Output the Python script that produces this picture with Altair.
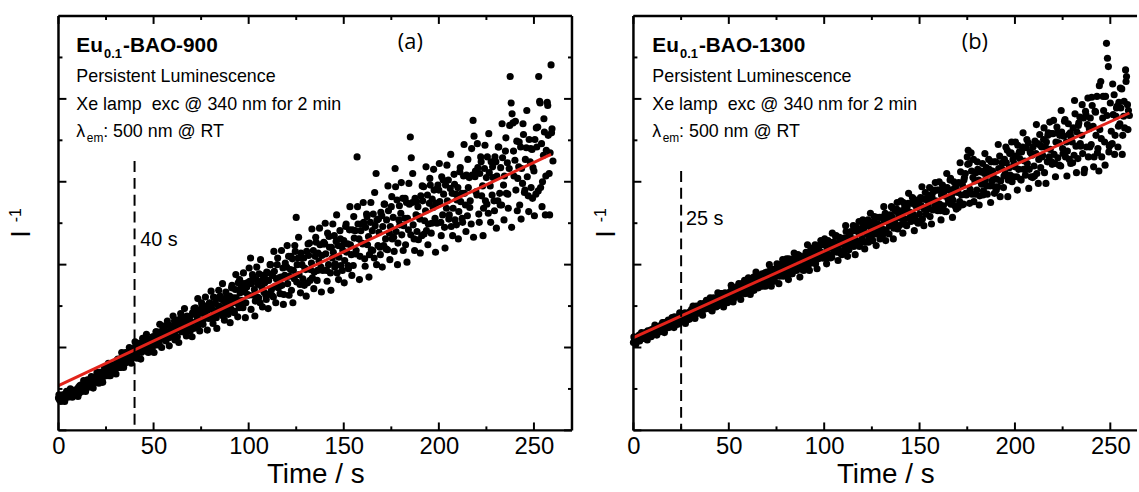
import altair as alt
import numpy as np
import pandas as pd

FONT = "Liberation Sans"
RED = "#e2231a"

# sampling grids of the measurement
time_s = np.arange(0, 260.5, 0.5)      # main readings, every 0.5 s
time_s2 = np.arange(0.25, 260, 1.0)    # interleaved readings, every 1 s

# I^-1 (arb. units) (a) Eu0.1-BAO-900, 20 readings per 10 s row
inv_900 = [
    0.39, 0.37, 0.42, 0.39, 0.40, 0.37, 0.43, 0.42, 0.40, 0.46, 0.40, 0.44, 0.46, 0.43, 0.42, 0.48, 0.46, 0.44, 0.49, 0.47,
    0.47, 0.52, 0.45, 0.52, 0.55, 0.50, 0.52, 0.50, 0.56, 0.52, 0.56, 0.60, 0.52, 0.59, 0.57, 0.62, 0.57, 0.61, 0.58, 0.65,
    0.65, 0.63, 0.60, 0.70, 0.63, 0.68, 0.62, 0.71, 0.67, 0.69, 0.74, 0.67, 0.73, 0.66, 0.74, 0.72, 0.79, 0.71, 0.76, 0.76,
    0.80, 0.75, 0.85, 0.79, 0.82, 0.76, 0.87, 0.84, 0.82, 0.92, 0.81, 0.88, 0.91, 0.86, 0.84, 0.95, 0.92, 0.87, 0.95, 0.93,
    0.93, 1.01, 0.90, 1.00, 1.05, 0.96, 0.99, 0.94, 1.04, 0.97, 1.03, 1.08, 0.96, 1.06, 1.03, 1.10, 1.02, 1.07, 1.02, 1.13,
    1.13, 1.10, 1.03, 1.19, 1.07, 1.14, 1.04, 1.19, 1.11, 1.14, 1.22, 1.10, 1.20, 1.08, 1.19, 1.15, 1.27, 1.12, 1.21, 1.20,
    1.25, 1.16, 1.32, 1.20, 1.25, 1.13, 1.32, 1.25, 1.21, 1.37, 1.19, 1.30, 1.34, 1.25, 1.20, 1.38, 1.32, 1.24, 1.37, 1.31,
    1.30, 1.42, 1.23, 1.40, 1.48, 1.32, 1.37, 1.27, 1.45, 1.31, 1.42, 1.51, 1.28, 1.45, 1.40, 1.50, 1.37, 1.45, 1.35, 1.54,
    1.53, 1.47, 1.36, 1.61, 1.41, 1.53, 1.36, 1.59, 1.46, 1.50, 1.62, 1.43, 1.58, 1.38, 1.56, 1.49, 1.67, 1.43, 1.57, 1.54,
    1.62, 1.47, 1.72, 1.54, 1.60, 1.42, 1.70, 1.60, 1.53, 1.78, 1.48, 1.66, 1.72, 1.57, 1.48, 1.77, 1.67, 1.54, 1.73, 1.64,
    1.63, 1.80, 2.08, 1.77, 1.88, 1.63, 1.70, 1.56, 1.82, 1.61, 1.76, 1.89, 1.54, 1.80, 1.72, 1.87, 1.67, 1.78, 1.63, 1.91,
    1.90, 1.81, 1.65, 2.00, 1.70, 1.87, 1.61, 1.92, 1.74, 1.83, 2.00, 1.72, 1.84, 1.65, 1.85, 1.75, 1.96, 1.64, 1.87, 1.85,
    1.97, 1.77, 2.10, 1.86, 1.94, 1.69, 2.07, 1.93, 1.83, 2.16, 2.57, 2.00, 2.08, 1.88, 1.76, 2.14, 2.00, 1.83, 2.08, 1.96,
    1.94, 2.16, 1.78, 2.11, 2.26, 1.94, 2.02, 1.84, 2.17, 1.91, 2.10, 2.27, 1.81, 2.14, 2.04, 2.24, 1.97, 2.11, 1.93, 2.27,
    2.25, 2.13, 1.93, 2.38, 2.00, 2.21, 1.90, 2.21, 2.08, 2.15, 2.35, 2.01, 2.28, 1.90, 2.23, 2.09, 2.41, 1.99, 2.22, 2.17,
    2.29, 2.05, 2.46, 2.15, 2.25, 1.95, 2.42, 2.24, 2.12, 2.42, 1.99, 2.32, 2.41, 2.17, 3.30, 2.49, 2.31, 2.10, 2.41, 2.26,
    2.25, 2.51, 2.07, 2.45, 2.61, 2.24, 2.34, 2.12, 2.51, 2.18, 2.41, 2.61, 2.08, 2.47, 3.10, 2.54, 2.23, 2.39, 2.21, 2.63,
    2.59, 2.46, 2.23, 2.73, 2.31, 2.54, 2.18, 2.65, 2.38, 2.46, 2.70, 2.31, 2.57, 2.16, 3.16, 2.40, 2.78, 2.26, 2.54, 2.48,
    2.62, 2.36, 2.80, 2.47, 2.56, 2.24, 2.75, 2.56, 2.42, 2.73, 3.54, 3.29, 2.75, 2.48, 2.31, 2.80, 2.60, 2.40, 2.70, 2.58,
    2.55, 2.83, 2.35, 2.77, 2.94, 2.53, 2.65, 2.41, 2.84, 2.49, 2.74, 2.96, 2.38, 2.79, 2.69, 2.90, 2.56, 2.74, 2.50, 2.96,
    2.90, 2.76, 2.51, 3.06, 2.60, 2.85, 2.45, 2.96, 2.68, 2.77, 3.02, 2.60, 2.92, 2.46, 2.86, 2.68, 3.09, 2.54, 2.85, 2.78,
    2.93, 2.64, 3.12, 2.76, 2.86, 2.51, 3.07, 2.86, 2.72, 3.08, 2.59, 2.93, 3.05, 2.77, 2.49, 3.08, 3.74, 3.55, 3.06, 2.88,
    2.84, 3.17, 2.61, 3.10, 3.30, 2.83, 2.95, 2.68, 3.16, 2.77, 3.05, 3.30, 2.62, 3.11, 2.95, 3.24, 2.84, 3.05, 2.77, 3.30,
    3.24, 3.07, 2.77, 3.42, 2.86, 3.17, 2.72, 3.29, 2.96, 3.07, 3.37, 2.86, 3.23, 2.68, 3.16, 4.27, 3.95, 3.82, 3.71, 3.07,
    3.26, 2.90, 3.49, 3.04, 3.18, 2.72, 3.42, 3.16, 2.98, 3.57, 2.87, 3.27, 3.41, 3.06, 2.83, 3.51, 3.24, 2.93, 3.39, 3.17,
    3.13, 3.51, 2.85, 3.42, 3.66, 4.27, 3.97, 2.93, 3.46, 3.00, 3.32, 3.60, 2.60, 3.38, 3.96, 3.56, 3.10, 3.35, 4.41, 3.64,
    3.25,
]

# interleaved readings of panel (a), 10 per 10 s row
inv_900_b = [
    0.43, 0.35, 0.43, 0.35, 0.47, 0.41, 0.50, 0.40, 0.48, 0.43,
    0.41, 0.54, 0.47, 0.60, 0.47, 0.61, 0.54, 0.65, 0.51, 0.64,
    0.70, 0.57, 0.70, 0.58, 0.76, 0.66, 0.81, 0.66, 0.78, 0.71,
    0.68, 0.86, 0.76, 0.94, 0.76, 0.94, 0.85, 1.00, 0.81, 0.98,
    1.07, 0.87, 1.04, 0.86, 1.11, 0.96, 1.16, 0.94, 1.09, 0.99,
    0.94, 1.19, 1.03, 1.28, 1.00, 1.26, 1.11, 1.32, 1.02, 1.26,
    1.38, 1.09, 1.33, 1.06, 1.41, 1.19, 1.47, 1.14, 1.36, 1.20,
    1.13, 1.47, 1.24, 1.59, 1.20, 1.54, 1.34, 1.61, 1.21, 1.53,
    1.68, 1.29, 1.60, 1.23, 1.69, 1.41, 1.77, 1.33, 1.61, 1.40,
    1.30, 1.75, 1.44, 1.88, 1.37, 1.82, 1.54, 1.90, 1.36, 1.78,
    1.96, 1.46, 1.85, 1.38, 1.97, 1.60, 2.06, 1.49, 1.85, 1.58,
    1.47, 2.00, 1.63, 2.16, 1.54, 2.08, 1.74, 2.17, 1.52, 2.02,
    2.23, 1.63, 2.10, 1.54, 2.23, 1.79, 2.33, 1.66, 2.08, 1.75,
    1.62, 2.25, 1.81, 2.43, 1.71, 2.33, 1.93, 2.44, 1.67, 2.25,
    2.50, 1.80, 2.34, 1.69, 2.49, 1.97, 2.60, 1.82, 2.31, 1.93,
    1.78, 2.49, 1.99, 2.70, 1.87, 2.58, 2.13, 2.70, 1.82, 2.49,
    2.75, 1.98, 2.58, 1.85, 2.75, 2.17, 2.87, 2.00, 2.55, 2.12,
    1.97, 2.73, 2.19, 2.95, 2.06, 2.82, 2.33, 2.94, 2.00, 2.71,
    2.99, 2.17, 2.80, 2.03, 2.98, 2.36, 3.10, 2.17, 2.76, 2.30,
    2.14, 2.95, 2.37, 3.18, 2.24, 3.04, 2.50, 3.15, 2.15, 2.92,
    3.22, 2.35, 3.02, 2.20, 3.20, 2.55, 3.33, 2.35, 2.97, 2.48,
    2.31, 3.17, 2.56, 3.45, 2.40, 3.27, 2.69, 3.40, 2.33, 3.13,
    3.46, 2.51, 3.24, 2.35, 3.44, 2.73, 3.58, 2.51, 3.18, 2.65,
    2.44, 3.42, 2.72, 3.70, 2.54, 3.53, 2.85, 3.68, 2.45, 3.37,
    3.73, 2.65, 3.48, 2.55, 3.70, 2.90, 3.86, 2.64, 3.40, 2.80,
    2.59, 3.65, 2.89, 3.95, 2.70, 3.76, 3.07, 3.92, 2.60, 3.59,
]

# I^-1 (arb. units) (b) Eu0.1-BAO-1300
inv_1300 = [
    1.06, 1.11, 1.10, 1.07, 1.12, 1.10, 1.15, 1.10, 1.14, 1.13, 1.16, 1.11, 1.15, 1.17, 1.14, 1.20, 1.16, 1.17, 1.21, 1.16,
    1.22, 1.18, 1.17, 1.22, 1.25, 1.19, 1.23, 1.25, 1.19, 1.27, 1.24, 1.27, 1.30, 1.23, 1.27, 1.25, 1.31, 1.24, 1.30, 1.30,
    1.29, 1.33, 1.28, 1.37, 1.31, 1.34, 1.29, 1.37, 1.38, 1.33, 1.36, 1.32, 1.40, 1.36, 1.42, 1.36, 1.41, 1.34, 1.41, 1.43,
    1.39, 1.46, 1.43, 1.38, 1.46, 1.43, 1.50, 1.41, 1.47, 1.45, 1.50, 1.42, 1.49, 1.51, 1.46, 1.54, 1.48, 1.50, 1.55, 1.47,
    1.56, 1.51, 1.48, 1.55, 1.60, 1.51, 1.56, 1.59, 1.50, 1.61, 1.56, 1.60, 1.65, 1.55, 1.60, 1.58, 1.66, 1.56, 1.64, 1.63,
    1.62, 1.67, 1.59, 1.72, 1.63, 1.67, 1.60, 1.71, 1.73, 1.65, 1.68, 1.63, 1.74, 1.68, 1.77, 1.67, 1.74, 1.65, 1.73, 1.77,
    1.70, 1.81, 1.76, 1.68, 1.81, 1.75, 1.85, 1.72, 1.81, 1.78, 1.85, 1.72, 1.82, 1.84, 1.77, 1.89, 1.80, 1.83, 1.90, 1.78,
    1.91, 1.83, 1.79, 1.89, 1.95, 1.83, 1.89, 1.93, 1.80, 1.95, 1.88, 1.94, 2.00, 1.86, 1.92, 1.89, 2.00, 1.86, 1.97, 1.96,
    1.94, 2.00, 1.89, 2.07, 1.94, 2.00, 1.89, 2.04, 2.07, 1.95, 2.00, 1.93, 2.08, 2.00, 2.11, 1.97, 2.07, 1.94, 2.06, 2.10,
    2.01, 2.15, 2.08, 1.98, 2.14, 2.06, 2.20, 2.02, 2.14, 2.10, 2.18, 2.01, 2.15, 2.18, 2.07, 2.23, 2.11, 2.15, 2.24, 2.08,
    2.24, 2.13, 2.08, 2.20, 2.29, 2.12, 2.20, 2.25, 2.09, 2.27, 2.19, 2.26, 2.34, 2.15, 2.23, 2.19, 2.33, 2.14, 2.29, 2.27,
    2.25, 2.32, 2.19, 2.40, 2.24, 2.31, 2.18, 2.37, 2.40, 2.25, 2.31, 2.22, 2.41, 2.30, 2.45, 2.27, 2.39, 2.22, 2.37, 2.43,
    2.31, 2.48, 2.40, 2.27, 2.47, 2.37, 2.54, 2.32, 2.46, 2.40, 2.51, 2.29, 2.46, 2.50, 2.37, 2.57, 2.41, 2.46, 2.57, 2.36,
    2.57, 2.43, 2.37, 2.52, 2.62, 2.42, 2.52, 2.57, 2.37, 2.60, 2.49, 2.58, 2.68, 2.44, 2.54, 2.48, 2.67, 2.43, 2.61, 2.59,
    2.56, 2.65, 2.49, 2.75, 2.55, 2.64, 2.48, 2.70, 2.74, 2.56, 2.63, 2.52, 2.74, 2.61, 2.79, 2.57, 2.71, 2.52, 2.69, 2.76,
    2.61, 2.81, 2.71, 2.55, 2.79, 2.67, 2.87, 2.61, 2.78, 2.71, 2.84, 2.58, 2.78, 2.82, 2.66, 2.90, 2.71, 2.77, 2.90, 2.65,
    2.90, 2.73, 2.65, 2.84, 2.96, 2.71, 2.83, 2.90, 2.64, 2.93, 2.79, 2.90, 3.02, 2.73, 2.85, 2.78, 3.00, 2.71, 2.93, 2.90,
    2.87, 2.99, 2.76, 3.12, 2.84, 2.96, 2.73, 3.05, 3.10, 2.84, 3.30, 3.38, 3.22, 2.91, 3.35, 2.85, 3.05, 2.76, 3.01, 3.11,
    2.90, 3.15, 3.02, 2.83, 3.12, 2.97, 3.22, 2.89, 3.10, 3.02, 3.17, 2.85, 3.10, 3.15, 2.95, 3.24, 3.01, 3.08, 3.24, 2.94,
    3.24, 3.03, 2.94, 3.16, 3.31, 3.01, 3.16, 3.23, 2.93, 3.27, 3.10, 3.23, 3.38, 3.02, 3.17, 3.08, 3.35, 3.00, 3.27, 3.22,
    3.18, 3.31, 3.06, 3.44, 3.15, 3.28, 3.03, 3.36, 3.42, 3.15, 3.25, 3.08, 3.41, 3.22, 3.47, 3.15, 3.36, 3.06, 3.32, 3.42,
    3.19, 3.49, 3.34, 3.10, 3.46, 3.27, 3.57, 3.17, 3.42, 3.32, 3.51, 3.11, 3.42, 3.48, 3.24, 3.59, 3.30, 3.39, 3.58, 3.21,
    3.58, 3.33, 3.22, 3.48, 3.66, 3.29, 3.47, 3.56, 3.19, 3.60, 3.40, 3.55, 3.73, 3.30, 3.48, 3.37, 3.70, 3.27, 3.59, 3.54,
    3.48, 3.65, 3.32, 3.82, 3.43, 3.60, 3.28, 3.71, 3.78, 3.43, 3.56, 3.34, 3.77, 3.15, 3.85, 3.42, 3.69, 3.30, 3.64, 3.77,
    3.45, 3.92, 3.67, 3.30, 3.85, 3.56, 4.03, 3.40, 3.13, 3.63, 4.21, 3.30, 3.77, 3.86, 3.48, 4.03, 4.67, 4.49, 4.39, 3.43,
    3.95, 3.61, 3.46, 3.81, 4.05, 3.56, 3.79, 3.91, 3.42, 3.96, 3.70, 3.89, 4.12, 3.56, 3.79, 3.65, 4.35, 4.27, 3.93, 3.86,
    3.80,
]

# interleaved readings of panel (b), 10 per 10 s row
inv_1300_b = [
    1.13, 1.04, 1.12, 1.08, 1.18, 1.11, 1.18, 1.09, 1.17, 1.13,
    1.15, 1.27, 1.15, 1.24, 1.22, 1.30, 1.18, 1.30, 1.33, 1.25,
    1.36, 1.24, 1.35, 1.28, 1.42, 1.33, 1.41, 1.29, 1.40, 1.34,
    1.36, 1.50, 1.35, 1.47, 1.43, 1.53, 1.39, 1.52, 1.57, 1.47,
    1.60, 1.44, 1.58, 1.49, 1.66, 1.54, 1.65, 1.49, 1.62, 1.54,
    1.56, 1.75, 1.55, 1.69, 1.65, 1.77, 1.58, 1.76, 1.81, 1.68,
    1.84, 1.64, 1.81, 1.69, 1.91, 1.75, 1.87, 1.74, 1.85, 1.74,
    1.77, 2.00, 1.74, 1.93, 1.86, 2.01, 1.77, 1.99, 2.06, 1.88,
    2.07, 1.82, 2.03, 1.89, 2.14, 1.95, 2.12, 1.85, 2.06, 1.93,
    1.96, 2.24, 1.93, 2.14, 2.07, 2.24, 1.95, 2.22, 2.29, 2.08,
    2.31, 2.01, 2.25, 2.08, 2.38, 2.16, 2.35, 2.05, 2.28, 2.12,
    2.14, 2.47, 2.10, 2.35, 2.26, 2.47, 2.12, 2.43, 2.52, 2.27,
    2.54, 2.19, 2.47, 2.27, 2.62, 2.36, 2.58, 2.23, 2.49, 2.31,
    2.34, 2.70, 2.29, 2.57, 2.47, 2.70, 2.31, 2.65, 2.75, 2.47,
    2.77, 2.38, 2.70, 2.47, 2.86, 2.56, 2.81, 2.41, 2.71, 2.50,
    2.53, 2.94, 2.47, 2.79, 2.67, 2.93, 2.49, 2.88, 2.99, 2.67,
    3.00, 2.54, 2.90, 2.64, 3.10, 2.75, 3.04, 2.57, 2.92, 2.67,
    2.69, 3.23, 2.72, 3.02, 2.86, 3.21, 2.74, 3.13, 3.27, 2.85,
    3.24, 2.72, 3.13, 2.84, 3.34, 2.95, 3.27, 2.75, 3.13, 2.86,
    2.90, 3.45, 2.82, 3.23, 3.07, 3.42, 2.82, 3.34, 3.48, 3.06,
    3.48, 2.90, 3.36, 3.02, 3.59, 3.15, 3.51, 2.92, 3.35, 3.05,
    3.07, 3.69, 2.98, 3.44, 3.30, 3.65, 2.98, 3.56, 3.72, 3.24,
    3.74, 3.06, 3.59, 3.20, 3.86, 3.34, 3.75, 3.07, 3.57, 3.22,
    3.23, 3.98, 3.11, 3.68, 3.46, 3.93, 3.11, 3.81, 4.01, 3.42,
    4.02, 3.18, 3.84, 3.35, 4.16, 3.52, 4.03, 3.20, 3.80, 3.36,
    3.45, 4.18, 3.33, 3.89, 3.67, 4.13, 3.33, 3.97, 4.21, 3.63,
]

# linear fits (red lines): end points
fit_t_900, fit_v_900 = [0, 259], [0.54, 3.33]
fit_t_1300, fit_v_1300 = [0, 260], [1.12, 3.83]

# dashed markers
mark_900 = {"t": 40, "top": 3.25, "label": "40 s", "lt": 43, "lv": 2.22}
mark_1300 = {"t": 25, "top": 3.13, "label": "25 s", "lt": 27.5, "lv": 2.48}

x_major = [0, 50, 100, 150, 200, 250]
x_minor = [25, 75, 125, 175, 225]
y_major = [0, 1, 2, 3, 4, 5]
y_minor = [0.5, 1.5, 2.5, 3.5, 4.5]

H = 418


def panel(v1, v2, xmax, width, fit_t, fit_v, mk, sample, tag, tag_t, title_t, yt_x, right_border):
    xs = alt.Scale(domain=[0, xmax], nice=False, zero=False)
    ys = alt.Scale(domain=[0, 5], nice=False, zero=False)
    AX = alt.Axis(
        values=x_major, labelFontSize=24, labelFont=FONT, labelColor="black",
        ticks=False, tickSize=0, domain=False, grid=False, labelPadding=4,
        labelFlush=False, labelOverlap=False,
        title="Time / s", titleFont=FONT, titleFontSize=28, titleFontWeight="normal",
        titleColor="black", titlePadding=3)

    def X(f):
        return alt.X(f, type="quantitative", scale=xs, axis=AX)

    def Y(f):
        return alt.Y(f, type="quantitative", scale=ys, axis=None)

    one = pd.DataFrame({"k": [0]})

    df = pd.concat([pd.DataFrame({"t": time_s, "v": v1}),
                    pd.DataFrame({"t": time_s2, "v": v2})], ignore_index=True)
    pts = alt.Chart(df).mark_circle(size=52, color="black", opacity=1).encode(
        x=X("t"), y=Y("v"))
    fit = alt.Chart(pd.DataFrame({"t": fit_t, "v": fit_v})).mark_line(
        color=RED, strokeWidth=3
    ).encode(x=X("t"), y=Y("v"))

    dash = alt.Chart(pd.DataFrame({"t": [mk["t"]], "top": [mk["top"]], "bot": [0]})).mark_rule(
        color="black", strokeWidth=2, strokeDash=[11, 6]
    ).encode(x=X("t"), y=Y("top"), y2=alt.Y2("bot"))

    def txt(tt, vv, s, size, weight="normal", dx=0, dy=0, font=FONT, align="left",
            baseline="alphabetic"):
        return alt.Chart(pd.DataFrame({"t": [tt], "v": [vv], "s": [s]})).mark_text(
            align=align, baseline=baseline, fontSize=size, fontWeight=weight,
            font=font, dx=dx, dy=dy, color="black"
        ).encode(x=X("t"), y=Y("v"), text="s:N")

    texts = [
        txt(title_t, 4.57, "Eu", 21, "bold"),
        txt(title_t, 4.57, "0.1", 13, "bold", dx=28, dy=6),
        txt(title_t, 4.57, sample, 21, "bold", dx=47),
        txt(title_t, 4.20, "Persistent Luminescence", 18),
        txt(title_t, 3.87, "Xe lamp\u00a0 exc @ 340 nm for 2 min", 18),
        txt(title_t, 3.54, "\u03bb", 18),
        txt(title_t, 3.54, "em", 12, dx=10.5, dy=5),
        txt(title_t, 3.54, ": 500 nm @ RT", 18, dx=27),
        txt(mk["lt"], mk["lv"], mk["label"], 20),
        txt(tag_t, 4.68, tag, 22, font="Open Sans", align="center", baseline="middle"),
    ]

    # ticks pointing inward
    def xticks(vals, ln):
        d = pd.DataFrame({"t": vals})
        bot = alt.Chart(d).mark_rule(color="black", strokeWidth=2).encode(
            x=X("t"), y=alt.value(H), y2=alt.value(H - ln))
        top = alt.Chart(d).mark_rule(color="black", strokeWidth=2).encode(
            x=X("t"), y=alt.value(0), y2=alt.value(ln))
        return [bot, top]

    def yticks(vals, ln):
        d = pd.DataFrame({"v": vals})
        out = [alt.Chart(d).mark_rule(color="black", strokeWidth=2).encode(
            y=Y("v"), x=alt.value(0), x2=alt.value(ln))]
        if right_border:
            out.append(alt.Chart(d).mark_rule(color="black", strokeWidth=2).encode(
                y=Y("v"), x=alt.value(width), x2=alt.value(width - ln)))
        return out

    ticks = xticks(x_major, 8) + xticks(x_minor, 4) + yticks(y_major, 8) + yticks(y_minor, 4)

    bw = 2.5
    borders = [
        alt.Chart(one).mark_rule(color="black", strokeWidth=bw).encode(
            x=alt.value(0), x2=alt.value(width), y=alt.value(0)),
        alt.Chart(one).mark_rule(color="black", strokeWidth=bw).encode(
            x=alt.value(0), x2=alt.value(width), y=alt.value(H)),
        alt.Chart(one).mark_rule(color="black", strokeWidth=bw).encode(
            x=alt.value(0), y=alt.value(0), y2=alt.value(H)),
    ]
    if right_border:
        borders.append(alt.Chart(one).mark_rule(color="black", strokeWidth=bw).encode(
            x=alt.value(width), y=alt.value(0), y2=alt.value(H)))

    ytitle = [
        alt.Chart(one).mark_text(angle=270, align="center", baseline="alphabetic",
                                 fontSize=27, font=FONT, color="black", text="I").encode(
            x=alt.value(yt_x), y=alt.value(220)),
        alt.Chart(one).mark_text(angle=270, align="left", baseline="alphabetic",
                                 fontSize=16, font=FONT, color="black", text="-1").encode(
            x=alt.value(yt_x - 9), y=alt.value(208)),
    ]

    layers = [pts, fit, dash] + texts + ticks + borders + ytitle
    return alt.layer(*layers).properties(width=width, height=H)


panel_a = panel(inv_900, inv_900_b, 270, 518, fit_t_900, fit_v_900, mark_900,
                "-BAO-900", "(a)", 185, 9.4, -29, True)
panel_b = panel(inv_1300, inv_1300_b, 264, 508, fit_t_1300, fit_v_1300, mark_1300,
                "-BAO-1300", "(b)", 179, 9.9, -19, False)

chart = alt.hconcat(panel_a, panel_b, spacing=18).properties(
    padding={"left": 7, "top": 12, "right": 0, "bottom": 0},
    background="white",
).configure_view(stroke="transparent")

chart.save("out.html", embed_options={"renderer": "svg", "actions": False})
